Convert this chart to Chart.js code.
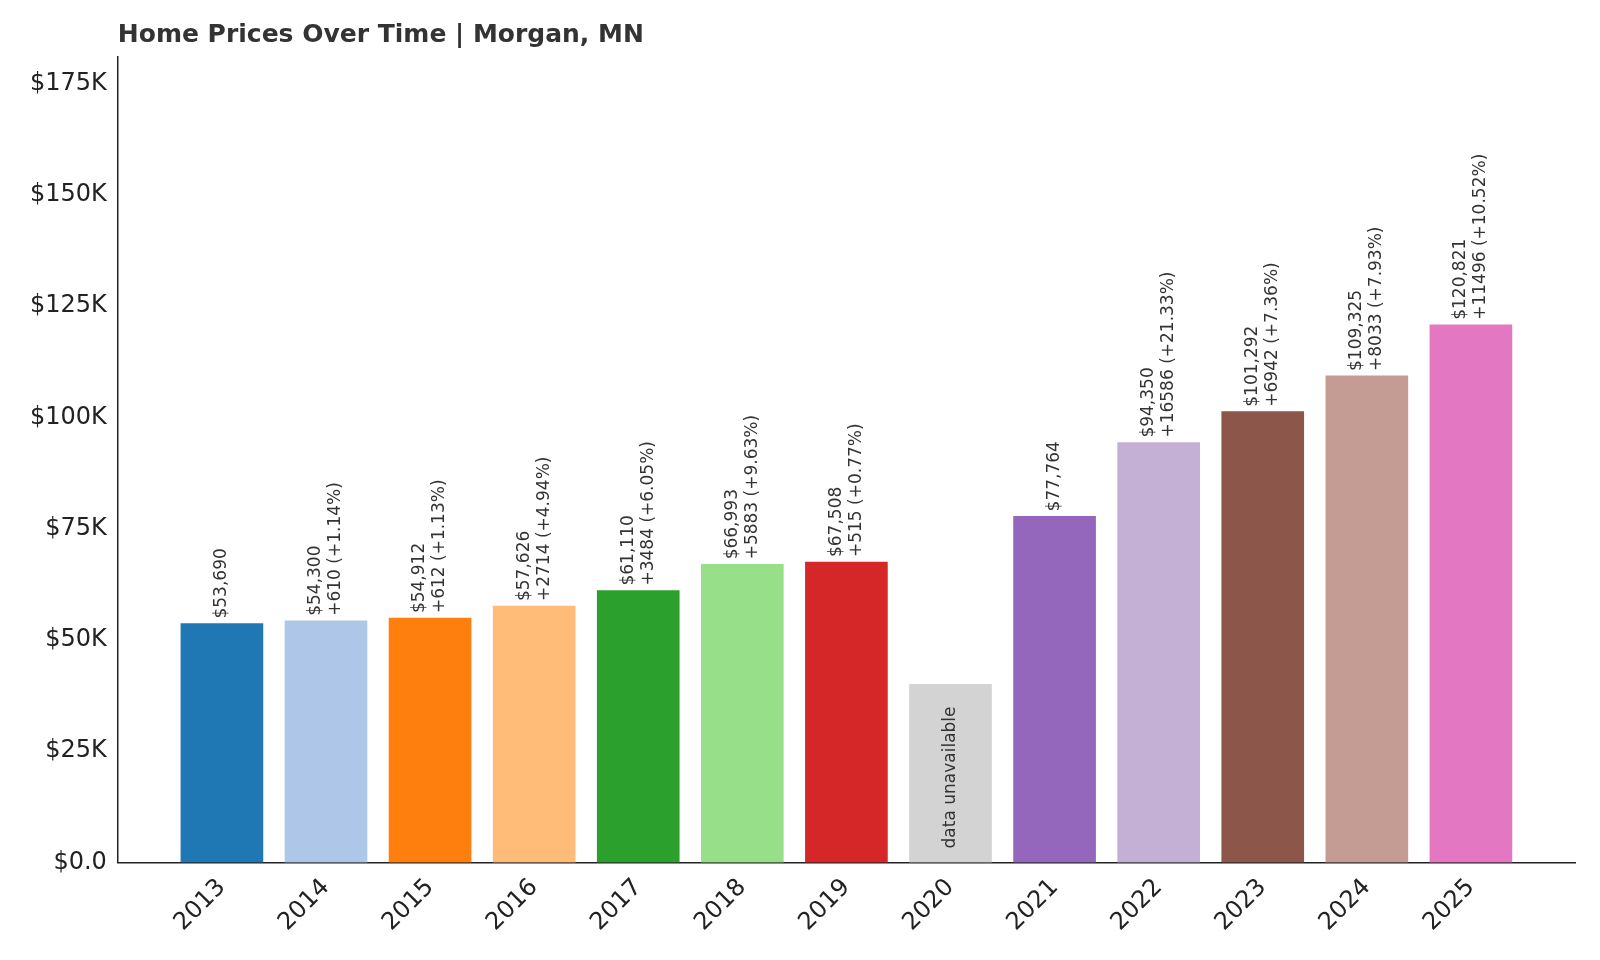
<!DOCTYPE html>
<html>
<head>
<meta charset="utf-8">
<script src="https://cdn.jsdelivr.net/npm/chart.js@4"></script>
<style>
  body { margin: 0; background: #fff; }
  #wrap { width: 1600px; height: 960px; }
</style>
</head>
<body>
<div id="wrap"><canvas id="myChart"></canvas></div>
<script>
var years = ['2013','2014','2015','2016','2017','2018','2019','2020','2021','2022','2023','2024','2025'];
var prices = [53690, 54300, 54912, 57626, 61110, 66993, 67508, 40000, 77764, 94350, 101292, 109325, 120821];
var labels1 = ['$53,690','$54,300','$54,912','$57,626','$61,110','$66,993','$67,508','','$77,764','$94,350','$101,292','$109,325','$120,821'];
var labels2 = ['','+610 (+1.14%)','+612 (+1.13%)','+2714 (+4.94%)','+3484 (+6.05%)','+5883 (+9.63%)','+515 (+0.77%)','','','+16586 (+21.33%)','+6942 (+7.36%)','+8033 (+7.93%)','+11496 (+10.52%)'];
var colors = ['#1f77b4','#aec7e8','#ff7f0e','#ffbb78','#2ca02c','#98df8a','#d62728','#d3d3d3','#9467bd','#c5b0d5','#8c564b','#c49c94','#e377c2'];
var missing = 7;
var titleText = 'Home Prices Over Time | Morgan, MN';

var points = prices.map(function (v, i) { return { x: i, y: v }; });

// title and texts above the bars, rotated
var barText = {
  id: 'barText',
  afterDatasetsDraw: function (chart) {
    var ctx = chart.ctx;
    var meta = chart.getDatasetMeta(0);
    ctx.save();
    ctx.fillStyle = '#333';
    ctx.font = 'bold 25px "DejaVu Sans"';
    ctx.textBaseline = 'middle';
    ctx.fillText(titleText, chart.chartArea.left, 35);
    ctx.font = '17px "DejaVu Sans"';
    meta.data.forEach(function (bar, i) {
      ctx.save();
      if (i == missing) {
        ctx.translate(bar.x, chart.scales.y.getPixelForValue(0) - 14);
        ctx.rotate(-Math.PI / 2);
        ctx.textAlign = 'left';
        ctx.textBaseline = 'middle';
        ctx.fillText('data unavailable', 0, 0);
      } else {
        ctx.translate(bar.x, bar.y - 5);
        ctx.rotate(-Math.PI / 2);
        ctx.textAlign = 'left';
        ctx.textBaseline = 'middle';
        if (labels2[i]) {
          ctx.fillText(labels1[i], 0, -10);
          ctx.fillText(labels2[i], 0, 10);
        } else {
          ctx.fillText(labels1[i], 0, 0);
        }
      }
      ctx.restore();
    });
    ctx.restore();
  }
};

var graph = new Chart(document.getElementById('myChart'), {
  type: 'bar',
  data: {
    datasets: [{
      data: points,
      backgroundColor: colors,
      barThickness: 82
    }]
  },
  plugins: [barText],
  options: {
    responsive: true,
    maintainAspectRatio: false,
    animation: false,
    layout: { padding: { left: 27, right: 25, top: 57, bottom: 20 } },
    plugins: {
      legend: { display: false },
      tooltip: { enabled: false },
      title: { display: false }
    },
    scales: {
      x: {
        type: 'linear',
        min: -1,
        max: 13,
        offset: false,
        grid: { display: false, drawTicks: true, tickLength: 8, tickColor: '#222' },
        border: { color: '#222', width: 1.5 },
        afterBuildTicks: function (axis) {
          axis.ticks = years.map(function (y, i) { return { value: i }; });
        },
        ticks: {
          autoSkip: false,
          maxRotation: 45,
          minRotation: 45,
          color: '#222',
          font: { family: 'DejaVu Sans', size: 24 },
          callback: function (v) { return years[v]; }
        }
      },
      y: {
        min: 0,
        max: 181000,
        grid: { display: false, drawTicks: true, tickLength: 8, tickColor: '#222' },
        border: { color: '#222', width: 1.5 },
        afterBuildTicks: function (axis) {
          axis.ticks = [0, 25000, 50000, 75000, 100000, 125000, 150000, 175000].map(function (v) { return { value: v }; });
        },
        ticks: {
          color: '#222',
          font: { family: 'DejaVu Sans', size: 24 },
          callback: function (v) { return v == 0 ? '$0.0' : '$' + (v / 1000) + 'K'; }
        }
      }
    }
  }
});
</script>
</body>
</html>
